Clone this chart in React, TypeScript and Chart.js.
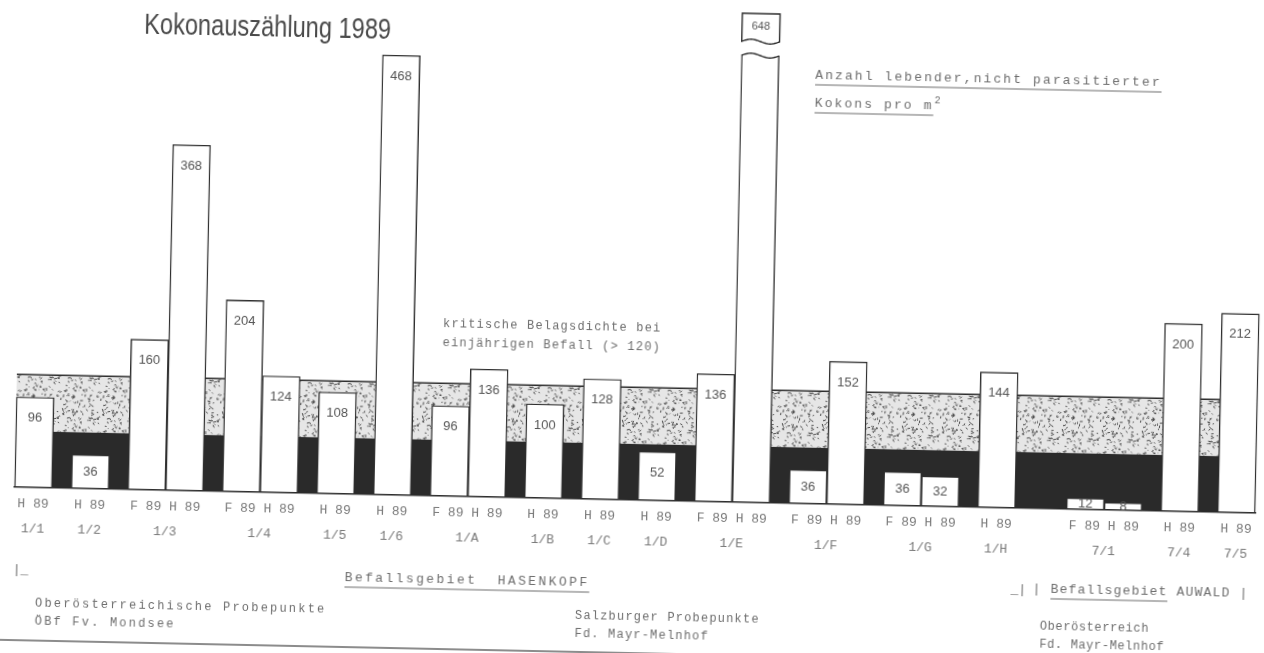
import React, { useEffect, useRef } from 'react';
import { Chart, registerables } from 'chart.js';

Chart.register(...registerables);

// ---------------- data ----------------
const SITES = ['1/1', '1/2', '1/3', '1/4', '1/5', '1/6', '1/A', '1/B', '1/C', '1/D', '1/E', '1/F', '1/G', '1/H', '7/1', '7/4', '7/5'];
const SITE_AREAS = [
  'HASENKOPF', 'HASENKOPF', 'HASENKOPF', 'HASENKOPF', 'HASENKOPF', 'HASENKOPF', 'HASENKOPF',
  'HASENKOPF', 'HASENKOPF', 'HASENKOPF', 'HASENKOPF', 'HASENKOPF', 'HASENKOPF', 'HASENKOPF',
  'AUWALD', 'AUWALD', 'AUWALD',
];
const F_89_VALUES: (number | null)[] = [null, null, 160, 204, null, null, 96, null, null, null, 136, 36, 36, null, 12, null, null];
const H_89_VALUES: number[] = [96, 36, 368, 124, 108, 468, 136, 100, 128, 52, 648, 152, 32, 144, 8, 200, 212];
const SERIES_NAMES = ['F 89', 'H 89'];
const DARK_BAND_TOP = 60;
const CRITICAL_DENSITY = 120;
const Y_MAX = 480;

// ---------------- texts ----------------
const TITLE = 'Kokonauszählung 1989';
const UNIT_TEXT = ['Anzahl lebender,nicht parasitierter', 'Kokons pro m'];
const UNIT_SUP = '2';
const CRITICAL_TEXT = ['kritische Belagsdichte bei', 'einjährigen Befall (> 120)'];
const AREA_TITLES = ['Befallsgebiet  HASENKOPF', 'Befallsgebiet', 'AUWALD'];
const NOTES_OOE = ['Oberösterreichische Probepunkte', 'ÖBf Fv. Mondsee'];
const NOTES_SBG = ['Salzburger Probepunkte', 'Fd. Mayr-Melnhof'];
const NOTES_AUWALD = ['Oberösterreich', 'Fd. Mayr-Melnhof'];

// ---------------- layout (slot units, one bar = 1) ----------------
const SITE_GAP = 0.5;
const AREA_GAP = 1.35;

const fPoints: { x: number; y: number }[] = [];
const hPoints: { x: number; y: number }[] = [];
const siteCenters: number[] = [];
let cursor = 0;
SITES.forEach((_, i) => {
  if (i > 0) cursor += SITE_AREAS[i] !== SITE_AREAS[i - 1] ? AREA_GAP : SITE_GAP;
  const hasF = F_89_VALUES[i] !== null;
  const n = hasF ? 2 : 1;
  if (hasF) fPoints.push({ x: cursor + 0.5, y: F_89_VALUES[i] as number });
  hPoints.push({ x: cursor + n - 0.5, y: H_89_VALUES[i] });
  siteCenters.push(cursor + n / 2);
  cursor += n;
});
const X_MAX = cursor;

const tickLabel = (i: number) => [
  F_89_VALUES[i] !== null ? `${SERIES_NAMES[0]} ${SERIES_NAMES[1]}` : SERIES_NAMES[1],
  SITES[i],
];

// ---------------- helpers ----------------
const MONO = '"Liberation Mono", "DejaVu Sans Mono", monospace';
const SANS = '"Liberation Sans", Arial, sans-serif';
const INK = '#2e2e2e';
const TYPE_GREY = '#6e6e6e';
const CANVAS_W = 1264;
const CANVAS_H = 680;

function makeStipple(): CanvasPattern | string {
  const c = document.createElement('canvas');
  c.width = 40;
  c.height = 40;
  const g = c.getContext('2d');
  if (!g) return '#bbb';
  g.fillStyle = '#e6e6e6';
  g.fillRect(0, 0, 40, 40);
  g.strokeStyle = '#4a4a4a';
  g.lineWidth = 1;
  let s = 12345;
  const next = () => {
    s = (s * 16807) % 2147483647;
    return s / 2147483647;
  };
  for (let k = 0; k < 110; k++) {
    const x = next() * 40;
    const y = next() * 40;
    const a = next() * Math.PI;
    const l = 1 + next() * 2.2;
    g.beginPath();
    g.moveTo(x, y);
    g.lineTo(x + Math.cos(a) * l, y + Math.sin(a) * l);
    g.stroke();
  }
  return g.createPattern(c, 'repeat') || '#bbb';
}

function setSpacing(ctx: CanvasRenderingContext2D, ls: number) {
  if ('letterSpacing' in ctx) (ctx as any).letterSpacing = `${ls}px`;
}

function drawText(
  ctx: CanvasRenderingContext2D,
  text: string,
  x: number,
  y: number,
  font: string,
  color: string,
  ls = 0,
  underline: number | null = null,
) {
  ctx.save();
  ctx.font = font;
  ctx.fillStyle = color;
  ctx.textBaseline = 'middle';
  ctx.textAlign = 'left';
  setSpacing(ctx, ls);
  ctx.fillText(text, x, y);
  const w = ctx.measureText(text).width;
  if (underline !== null) {
    ctx.strokeStyle = color;
    ctx.lineWidth = 1.2;
    ctx.beginPath();
    ctx.moveTo(x, y + underline);
    ctx.lineTo(x + w, y + underline);
    ctx.stroke();
  }
  ctx.restore();
  return w;
}

function wave(ctx: CanvasRenderingContext2D, x0: number, x1: number, y: number, amp: number, reverse: boolean) {
  const steps = 20;
  for (let k = 0; k <= steps; k++) {
    const t = reverse ? 1 - k / steps : k / steps;
    ctx.lineTo(x0 + (x1 - x0) * t, y - amp * Math.sin(t * 2 * Math.PI));
  }
}

// ---------------- plugins ----------------
const bandPlugin = {
  id: 'densityBand',
  beforeDatasetsDraw(chart: any) {
    const { ctx, chartArea } = chart;
    const ys = chart.scales.y;
    const y0 = ys.getPixelForValue(0);
    const y1 = ys.getPixelForValue(DARK_BAND_TOP);
    const y2 = ys.getPixelForValue(CRITICAL_DENSITY);
    const w = chartArea.right - chartArea.left;
    ctx.save();
    ctx.fillStyle = '#2a2a2a';
    ctx.fillRect(chartArea.left, y1, w, y0 - y1);
    ctx.fillStyle = makeStipple();
    ctx.fillRect(chartArea.left, y2, w, y1 - y2);
    ctx.strokeStyle = INK;
    ctx.lineWidth = 1.4;
    ctx.beginPath();
    ctx.moveTo(chartArea.left, y2);
    ctx.lineTo(chartArea.right, y2);
    ctx.stroke();
    ctx.restore();
  },
};

const valuePlugin = {
  id: 'barValues',
  afterDatasetsDraw(chart: any) {
    const { ctx, chartArea } = chart;
    const T = chartArea.top;
    chart.data.datasets.forEach((ds: any, di: number) => {
      const meta = chart.getDatasetMeta(di);
      meta.data.forEach((el: any, i: number) => {
        const v = ds.data[i].y as number;
        const { x, y, base, width } = el.getProps(['x', 'y', 'base', 'width'], true);
        const l = x - width / 2;
        const r = x + width / 2;
        ctx.save();
        if (v > Y_MAX) {
          // broken top of the bar
          ctx.fillStyle = '#fff';
          ctx.beginPath();
          ctx.moveTo(l - 2, T - 3);
          ctx.lineTo(r + 2, T - 3);
          ctx.lineTo(r + 2, T + 4);
          ctx.lineTo(r, T + 4);
          wave(ctx, l, r, T + 4, 2.2, true);
          ctx.lineTo(l - 2, T + 4);
          ctx.closePath();
          ctx.fill();
          ctx.strokeStyle = INK;
          ctx.lineWidth = 1.4;
          ctx.beginPath();
          ctx.moveTo(l, T + 4);
          wave(ctx, l, r, T + 4, 2.2, false);
          ctx.stroke();
          // detached head holding the value
          const bt = T - 38;
          const bb = T - 10;
          ctx.beginPath();
          ctx.moveTo(l, bb);
          ctx.lineTo(l, bt);
          ctx.lineTo(r, bt);
          ctx.lineTo(r, bb);
          wave(ctx, l, r, bb, 2.2, true);
          ctx.closePath();
          ctx.fillStyle = '#fff';
          ctx.fill();
          ctx.stroke();
          ctx.font = `11px ${SANS}`;
          ctx.fillStyle = '#555';
          ctx.textAlign = 'center';
          ctx.textBaseline = 'middle';
          ctx.fillText(String(v), x, (bt + bb) / 2 - 1);
        } else {
          const ty = Math.min(y + 21, (y + base) / 2);
          ctx.font = `13px ${SANS}`;
          ctx.fillStyle = '#555';
          ctx.textAlign = 'center';
          ctx.textBaseline = 'middle';
          ctx.fillText(String(v), x, ty);
        }
        ctx.restore();
      });
    });
  },
};

const textPlugin = {
  id: 'annotations',
  afterDraw(chart: any) {
    const ctx: CanvasRenderingContext2D = chart.ctx;
    // title (condensed grotesque)
    ctx.save();
    ctx.font = `30px ${SANS}`;
    ctx.fillStyle = '#4a4a4a';
    ctx.textBaseline = 'alphabetic';
    const tw = ctx.measureText(TITLE).width;
    ctx.translate(138, 44);
    ctx.scale(247 / tw, 1);
    ctx.fillText(TITLE, 0, 0);
    ctx.restore();

    // unit note
    drawText(ctx, UNIT_TEXT[0], 810, 72, `13px ${MONO}`, TYPE_GREY, 2.1, 9);
    const w2 = drawText(ctx, UNIT_TEXT[1], 810, 100, `13px ${MONO}`, TYPE_GREY, 2.1, 9);
    drawText(ctx, UNIT_SUP, 810 + w2 + 1, 94, `10px ${MONO}`, TYPE_GREY, 0);

    // critical density note
    drawText(ctx, CRITICAL_TEXT[0], 443, 328, `12px ${MONO}`, TYPE_GREY, 1.2);
    drawText(ctx, CRITICAL_TEXT[1], 443, 347, `12px ${MONO}`, TYPE_GREY, 1.2);

    // area brackets & titles
    drawText(ctx, '|_', 18, 583, `13px ${MONO}`, TYPE_GREY, 0);
    drawText(ctx, AREA_TITLES[0], 350, 584, `13px ${MONO}`, TYPE_GREY, 2.4, 9);
    drawText(ctx, '_|', 1016, 582, `13px ${MONO}`, TYPE_GREY, 0);
    const wBar = drawText(ctx, '| ', 1038, 581, `13px ${MONO}`, TYPE_GREY, 1.2);
    const wB = drawText(ctx, AREA_TITLES[1], 1038 + wBar, 581, `13px ${MONO}`, TYPE_GREY, 1.2, 9);
    drawText(ctx, ' ' + AREA_TITLES[2] + ' |', 1038 + wBar + wB, 581, `13px ${MONO}`, TYPE_GREY, 1.2);

    // sample-point notes
    drawText(ctx, NOTES_OOE[0], 41, 616, `12px ${MONO}`, TYPE_GREY, 2.2);
    drawText(ctx, NOTES_OOE[1], 41, 634, `12px ${MONO}`, TYPE_GREY, 2.2);
    drawText(ctx, NOTES_SBG[0], 581, 617, `12px ${MONO}`, TYPE_GREY, 1.2);
    drawText(ctx, NOTES_SBG[1], 581, 635, `12px ${MONO}`, TYPE_GREY, 1.2);
    drawText(ctx, NOTES_AUWALD[0], 1046, 618, `12px ${MONO}`, TYPE_GREY, 0.6);
    drawText(ctx, NOTES_AUWALD[1], 1046, 636, `12px ${MONO}`, TYPE_GREY, 0.6);

    // footer rule
    ctx.save();
    ctx.strokeStyle = '#666';
    ctx.lineWidth = 1.5;
    ctx.beginPath();
    ctx.moveTo(0, 653);
    ctx.lineTo(700, 653);
    ctx.stroke();
    ctx.restore();
  },
};

// ---------------- component ----------------
export default function App() {
  const ref = useRef<HTMLCanvasElement>(null);

  useEffect(() => {
    if (!ref.current) return;
    const barStyle = {
      backgroundColor: '#ffffff',
      borderColor: INK,
      borderWidth: 1.4,
      borderSkipped: false as const,
      grouped: false,
      barPercentage: 1,
      categoryPercentage: 1,
      clip: { left: false, right: false, bottom: false, top: 0 } as any,
    };
    const chart = new Chart(ref.current, {
      type: 'bar',
      data: {
        datasets: [
          { label: SERIES_NAMES[0], data: fPoints, ...barStyle },
          { label: SERIES_NAMES[1], data: hPoints, ...barStyle },
        ],
      },
      options: {
        responsive: false,
        animation: false,
        devicePixelRatio: 1,
        layout: { padding: { left: 18, right: 5, top: 49, bottom: CANVAS_H - 500 - 45 } },
        plugins: { legend: { display: false }, tooltip: { enabled: false }, title: { display: false } },
        scales: {
          x: {
            type: 'linear',
            min: 0,
            max: X_MAX,
            offset: false,
            grid: { display: false, drawTicks: false },
            border: { display: true, color: INK, width: 1.5 },
            afterBuildTicks: (s: any) => {
              s.ticks = siteCenters.map((v) => ({ value: v }));
            },
            afterFit: (s: any) => {
              s.height = 45;
            },
            ticks: {
              autoSkip: false,
              maxRotation: 0,
              minRotation: 0,
              padding: 4,
              color: '#7a7a7a',
              font: { family: 'Liberation Mono', size: 13, lineHeight: 1.92 },
              callback: (_v: any, i: number) => tickLabel(i),
            },
          },
          y: { display: false, min: 0, max: Y_MAX },
        },
      },
      plugins: [bandPlugin, valuePlugin, textPlugin],
    } as any);
    return () => chart.destroy();
  }, []);

  return (
    <div
      style={{
        position: 'absolute',
        left: 0,
        top: 0,
        width: CANVAS_W,
        height: CANVAS_H,
        transform: 'rotate(1.2deg)',
        transformOrigin: '632px 326px',
      }}
    >
      <canvas ref={ref} width={CANVAS_W} height={CANVAS_H} style={{ display: 'block' }} />
    </div>
  );
}
